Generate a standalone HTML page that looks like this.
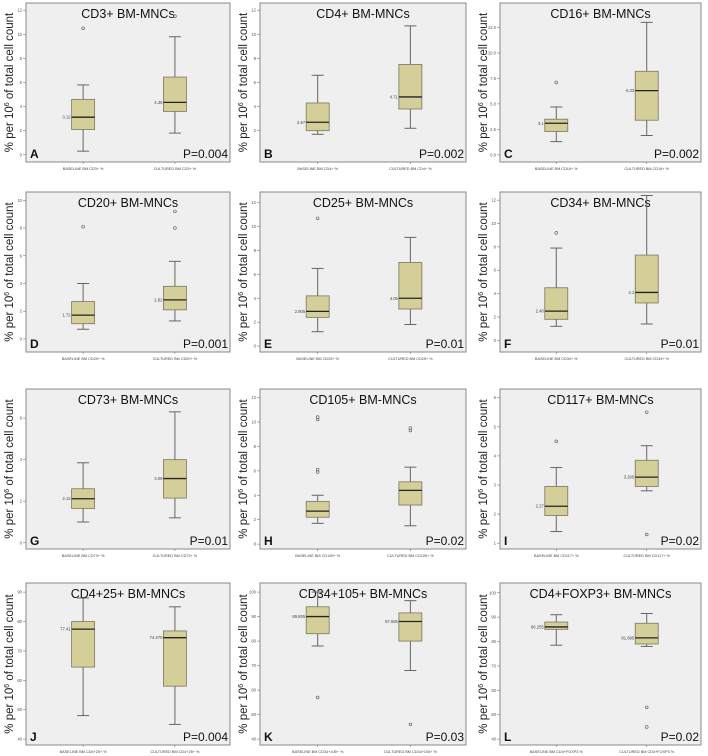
<!DOCTYPE html>
<html><head><meta charset="utf-8"><style>
html,body{margin:0;padding:0;background:#fff;}
svg{display:block;font-family:"Liberation Sans",Arial,sans-serif;}
</style></head><body>
<svg id="fig" width="708" height="756" viewBox="0 0 708 756"></svg>
<script>
const panelTitles=["CD3+ BM-MNCs","CD4+ BM-MNCs","CD16+ BM-MNCs","CD20+ BM-MNCs","CD25+ BM-MNCs","CD34+ BM-MNCs","CD73+ BM-MNCs","CD105+ BM-MNCs","CD117+ BM-MNCs","CD4+25+ BM-MNCs","CD34+105+ BM-MNCs","CD4+FOXP3+ BM-MNCs"];
const panelLetters=["A","B","C","D","E","F","G","H","I","J","K","L"];
const pValues=["P=0.004","P=0.002","P=0.002","P=0.001","P=0.01","P=0.01","P=0.01","P=0.02","P=0.02","P=0.004","P=0.03","P=0.02"];
const markers=["CD3+","CD4+","CD16+","CD20+","CD25+","CD34+","CD73+","CD105+","CD117+","CD4+25+","CD34+105+","CD4+FOXP3"];
const tickValues=[[0,2,4,6,8,10,12],[2,4,6,8,10,12],[0,2.5,5,7.5,10,12.5],[0,2,4,6,8,10],[0,2,4,6,8,10,12],[0,2,4,6,8,10,12],[0,2,4,6],[0,2,4,6,8,10,12],[1,2,3,4,5,6],[40,50,60,70,80,90],[40,50,60,70,80,90,100],[40,50,60,70,80,90,100]];
const tickFormats=[0,0,1,0,0,0,0,0,0,0,0,0];
const domainLo=[-0.6,-0.6,-0.7,-0.94,-0.5,-1.0,-0.3,-0.4,0.8,38,37.6,37.6];
const domainHi=[12.6,12.6,14.9,10.6,12.9,12.7,7.4,12.7,6.3,93.1,103.7,104];
// [lower whisker, q1, median, q3, upper whisker]
const baselineStats=[[0.3,2.1,3.12,4.6,5.8],[1.7,2.0,2.7,4.3,6.6],[1.3,2.3,3.1,3.5,4.7],[0.7,1.1,1.72,2.7,4.0],[1.2,2.4,2.9,4.2,6.5],[1.2,1.8,2.5,4.5,7.9],[1.0,1.65,2.12,2.6,3.85],[1.7,2.2,2.7,3.5,4.0],[1.4,1.95,2.27,2.95,3.6],[48,64.5,77.4,80,88],[78,83,90,94,100],[78.5,85,86,88,91]];
const culturedStats=[[1.8,3.6,4.35,6.45,9.8],[2.2,3.8,4.8,7.5,10.7],[1.9,3.4,6.3,8.2,13.0],[1.3,2.1,2.82,3.8,5.6],[1.8,3.1,4.0,7.0,9.1],[1.4,3.2,4.1,7.3,12.4],[1.2,2.15,3.09,4.0,6.3],[1.5,3.2,4.4,5.1,6.3],[2.8,2.95,3.27,3.85,4.35],[45,58,74.5,76.8,85],[68,80,88,91.5,96.5],[78,79,81.5,87.5,91.5]];
const baselineOutliers=[[10.5],[],[7.1],[8.1],[10.7],[9.2],[],[5.9,6.1,10.2,10.4],[4.5],[],[57],[]];
const culturedOutliers=[[11.5],[],[],[8.0,9.2],[],[],[],[9.3,9.5],[5.5,1.3],[],[46],[53,45]];
const baselineMedLabels=["3.12","2.67","3.1","1.72","2.905","2.48","2.12","","2.27","77.41","89.865","86.255"];
const culturedMedLabels=["4.35","4.71","6.33","2.82","4.05","4.1","3.09","","3.265","74.470","87.565","81.895"];

const colLeft=[26,260,500], colRight=[230,466,701];
const rowTop=[3,192,389,583], rowBottom=[162,352,549,745];
const NS="http://www.w3.org/2000/svg";
const svg=document.getElementById('fig');
function mk(tag,attrs,parent){const e=document.createElementNS(NS,tag);for(const k in attrs)e.setAttribute(k,attrs[k]);(parent||svg).appendChild(e);return e;}

for(let i=0;i<12;i++){
  const c=i%3,r=Math.floor(i/3);
  const x0=colLeft[c],x1=colRight[c],y0=rowTop[r],y1=rowBottom[r];
  const g=mk('g',{});
  
  
  const yS=v=>y1-(v-domainLo[i])/(domainHi[i]-domainLo[i])*(y1-y0);
  const bg=mk('rect',{x:x0,y:y0,width:x1-x0,height:y1-y0,fill:'#efefef',stroke:'#8a8a8a','stroke-width':1},g);
  
  
  // y ticks
  tickValues[i].forEach(t=>{
    const y=yS(t);
    mk('line',{x1:x0-3,x2:x0,y1:y,y2:y,stroke:'#777','stroke-width':0.6},g);
    const tx=mk('text',{x:x0-4,y:y+1.5,'font-size':4.2,'text-anchor':'end',fill:'#555'},g);
    tx.textContent=tickFormats[i]?t.toFixed(1):String(t);
    
    
  });
  // y title
  const cy=(y0+y1)/2, tx0=x0-13;
  const yt=mk('text',{x:tx0,y:cy,'font-size':11.5,'text-anchor':'middle',fill:'#222',transform:`rotate(-90 ${tx0} ${cy})`},g);
  yt.innerHTML='% per 10<tspan dy="-4" font-size="7">6</tspan><tspan dy="4"> of total cell count</tspan>';
  
  
  // title
  const ti=mk('text',{x:(x0+x1)/2,y:y0+15,'font-size':12.5,'text-anchor':'middle',fill:'#111'},g);
  ti.textContent=panelTitles[i];
  
  
  const lt=mk('text',{x:x0+4,y:y1-4,'font-size':12,'font-weight':'bold',fill:'#111'},g);
  lt.textContent=panelLetters[i];
  
  
  const pv=mk('text',{x:x1-2,y:y1-4,'font-size':12,'text-anchor':'end',fill:'#111'},g);
  pv.textContent=pValues[i];
  
  
  const W=x1-x0;
  const groups=[[baselineStats[i],baselineOutliers[i],baselineMedLabels[i],0.28,'BASELINE BM '+markers[i]+' %'],[culturedStats[i],culturedOutliers[i],culturedMedLabels[i],0.73,'CULTURED BM '+markers[i]+' %']];
  groups.forEach((gr,k)=>{
    const [s,outs,ml,fx,cat]=gr;
    const cx=x0+W*fx, bw=23;
    const wl=mk('line',{x1:cx,x2:cx,y1:yS(s[0]),y2:yS(s[4]),stroke:'#666','stroke-width':1},g);
    
    
    mk('line',{x1:cx-6,x2:cx+6,y1:yS(s[0]),y2:yS(s[0]),stroke:'#666','stroke-width':1},g);
    mk('line',{x1:cx-6,x2:cx+6,y1:yS(s[4]),y2:yS(s[4]),stroke:'#666','stroke-width':1},g);
    const bx=mk('rect',{x:cx-bw/2,y:yS(s[3]),width:bw,height:yS(s[1])-yS(s[3]),fill:'#d4cf98',stroke:'#7a7660','stroke-width':0.8},g);
    
    
    const md=mk('line',{x1:cx-bw/2,x2:cx+bw/2,y1:yS(s[2]),y2:yS(s[2]),stroke:'#222','stroke-width':1.3},g);
    
    
    if(ml){const m=mk('text',{x:cx-bw/2-1,y:yS(s[2])+1.5,'font-size':4.2,'text-anchor':'end',fill:'#444'},g);m.textContent=ml;
      
      }
    outs.forEach(o=>{
      const oc=mk('circle',{cx:cx,cy:yS(o),r:1.4,fill:'none',stroke:'#555','stroke-width':0.6},g);
      
      
    });
    mk('line',{x1:cx,x2:cx,y1:y1,y2:y1+2,stroke:'#777','stroke-width':0.6},g);
    const cl=mk('text',{x:cx,y:y1+8,'font-size':3.8,'text-anchor':'middle',fill:'#444'},g);
    cl.textContent=cat;
    
    
  });
}
</script>
</body></html>
